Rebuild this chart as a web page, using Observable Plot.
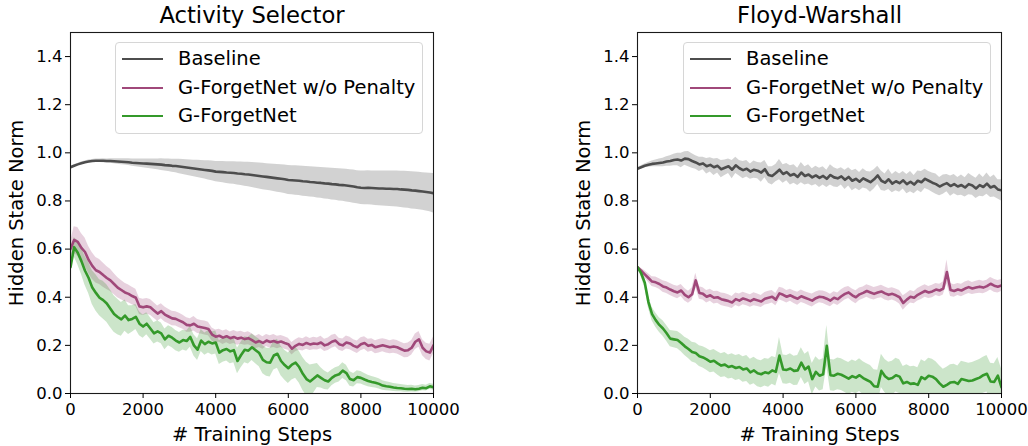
<!DOCTYPE html>
<html>
<head>
<meta charset="utf-8">
<script src="https://cdn.jsdelivr.net/npm/d3@7"></script>
<script src="https://cdn.jsdelivr.net/npm/@observablehq/plot@0.6"></script>
<style>
  html, body { margin: 0; padding: 0; background: #fff; }
  #wrap { position: relative; width: 1028px; height: 446px; font-family: "DejaVu Sans", sans-serif; overflow: hidden; }
  .panel { position: absolute; top: 0; }
  .legend { position: absolute; top: 42px; width: 306px; height: 90px; border: 1px solid #d6d6d6; border-radius: 4px; background: rgba(255,255,255,0.8); }
  .legend .swatch { position: absolute; left: 6px; width: 41px; height: 2.6px; }
  .legend .lab { position: absolute; left: 62px; font-size: 19.5px; line-height: 20px; color: #000; white-space: nowrap; }
</style>
</head>
<body>
<div id="wrap"></div>
<script>
// ---------------- data ----------------
const steps = d3.range(0, 10001, 100);
const seriesNames = ["Baseline", "G-ForgetNet w/o Penalty", "G-ForgetNet"];
const seriesColors = ["#4d4d4d", "#a0487a", "#34992a"];
const panelTitles = ["Activity Selector", "Floyd-Warshall"];
const xTicks = [0, 2000, 4000, 6000, 8000, 10000];
const yTicks = [0, 0.2, 0.4, 0.6, 0.8, 1.0, 1.2, 1.4];

// Activity Selector
const actBaselineMean = [
0.940,0.946,0.952,0.957,0.961,0.964,0.966,0.967,0.967,0.967,0.966,
0.966,0.965,0.964,0.963,0.962,0.961,0.959,0.958,0.957,0.956,
0.955,0.954,0.953,0.952,0.951,0.949,0.948,0.946,0.945,0.943,
0.941,0.939,0.937,0.935,0.933,0.931,0.929,0.927,0.925,0.922,
0.921,0.920,0.918,0.917,0.916,0.914,0.913,0.911,0.910,0.908,
0.906,0.904,0.902,0.900,0.898,0.896,0.894,0.892,0.890,0.887,
0.886,0.885,0.884,0.882,0.881,0.879,0.878,0.876,0.875,0.873,
0.872,0.870,0.869,0.867,0.866,0.864,0.862,0.860,0.857,0.855,
0.854,0.855,0.854,0.853,0.852,0.852,0.851,0.851,0.850,0.850,
0.848,0.847,0.846,0.844,0.843,0.841,0.839,0.837,0.835,0.832];
const actBaselineSpread = [
0.003,0.004,0.004,0.005,0.005,0.006,0.006,0.007,0.007,0.008,0.008,
0.009,0.010,0.011,0.012,0.013,0.014,0.015,0.016,0.017,0.018,
0.019,0.020,0.021,0.022,0.024,0.025,0.026,0.027,0.028,0.030,
0.031,0.032,0.033,0.034,0.036,0.037,0.038,0.040,0.041,0.042,
0.043,0.044,0.045,0.046,0.047,0.048,0.049,0.050,0.051,0.052,
0.053,0.054,0.055,0.055,0.056,0.057,0.058,0.058,0.059,0.060,
0.060,0.061,0.061,0.062,0.062,0.063,0.063,0.064,0.064,0.065,
0.065,0.066,0.066,0.067,0.067,0.068,0.068,0.069,0.069,0.070,
0.070,0.071,0.071,0.072,0.072,0.073,0.073,0.074,0.074,0.075,
0.075,0.076,0.076,0.077,0.077,0.078,0.078,0.079,0.080,0.082];
const actNoPenaltyMean = [
0.600,0.638,0.630,0.605,0.588,0.555,0.530,0.512,0.505,0.492,0.480,
0.470,0.455,0.440,0.430,0.420,0.414,0.405,0.398,0.362,0.358,
0.362,0.358,0.345,0.332,0.342,0.328,0.320,0.312,0.310,0.303,
0.296,0.285,0.283,0.290,0.278,0.275,0.272,0.268,0.245,0.236,
0.240,0.232,0.238,0.230,0.235,0.228,0.232,0.226,0.230,0.222,
0.212,0.218,0.210,0.220,0.214,0.218,0.212,0.216,0.210,0.205,
0.186,0.198,0.206,0.202,0.210,0.204,0.208,0.206,0.212,0.200,
0.205,0.215,0.220,0.205,0.200,0.212,0.208,0.198,0.192,0.205,
0.210,0.198,0.202,0.192,0.196,0.200,0.196,0.192,0.195,0.192,
0.185,0.178,0.180,0.190,0.215,0.225,0.190,0.175,0.170,0.200];
const actNoPenaltySpread = [
0.030,0.055,0.060,0.060,0.058,0.056,0.055,0.053,0.052,0.050,0.048,
0.046,0.044,0.042,0.040,0.038,0.037,0.036,0.035,0.034,0.034,
0.033,0.033,0.032,0.032,0.031,0.031,0.030,0.030,0.030,0.030,
0.029,0.030,0.028,0.030,0.029,0.028,0.029,0.028,0.027,0.028,
0.027,0.028,0.027,0.026,0.027,0.028,0.027,0.026,0.027,0.026,
0.026,0.027,0.026,0.025,0.026,0.027,0.026,0.025,0.026,0.025,
0.026,0.025,0.026,0.025,0.026,0.025,0.026,0.025,0.026,0.025,
0.026,0.027,0.026,0.025,0.026,0.027,0.026,0.025,0.026,0.027,
0.026,0.027,0.026,0.027,0.028,0.027,0.028,0.027,0.028,0.028,
0.028,0.029,0.030,0.030,0.032,0.033,0.033,0.034,0.035,0.035];
const actForgetMean = [
0.525,0.608,0.585,0.550,0.510,0.480,0.440,0.418,0.398,0.388,0.374,
0.352,0.330,0.318,0.308,0.324,0.305,0.310,0.318,0.290,0.278,
0.290,0.270,0.250,0.258,0.250,0.225,0.240,0.232,0.220,0.212,
0.222,0.218,0.235,0.200,0.182,0.220,0.205,0.215,0.208,0.212,
0.170,0.180,0.185,0.175,0.180,0.135,0.160,0.182,0.178,0.192,
0.180,0.168,0.140,0.130,0.128,0.158,0.165,0.135,0.118,0.105,
0.120,0.128,0.110,0.082,0.060,0.050,0.062,0.075,0.065,0.055,
0.050,0.065,0.075,0.080,0.095,0.085,0.060,0.055,0.068,0.065,
0.058,0.052,0.048,0.045,0.040,0.033,0.030,0.028,0.025,0.023,
0.022,0.020,0.019,0.020,0.018,0.020,0.024,0.022,0.030,0.026];
const actForgetSpread = [
0.020,0.040,0.050,0.055,0.060,0.065,0.070,0.075,0.075,0.078,0.078,
0.078,0.076,0.074,0.070,0.065,0.060,0.055,0.052,0.050,0.048,
0.046,0.045,0.044,0.044,0.043,0.043,0.042,0.042,0.042,0.041,
0.041,0.042,0.043,0.044,0.045,0.046,0.046,0.047,0.048,0.048,
0.049,0.050,0.050,0.051,0.052,0.053,0.053,0.054,0.055,0.055,
0.056,0.057,0.058,0.058,0.059,0.060,0.060,0.061,0.062,0.063,
0.064,0.065,0.066,0.068,0.070,0.068,0.060,0.050,0.042,0.038,
0.035,0.033,0.032,0.032,0.033,0.032,0.030,0.028,0.027,0.026,
0.025,0.024,0.023,0.022,0.021,0.020,0.019,0.018,0.017,0.016,
0.015,0.015,0.014,0.014,0.013,0.013,0.013,0.012,0.012,0.012];

// Floyd-Warshall
const fwBaselineMean = [
0.934,0.940,0.946,0.950,0.954,0.956,0.958,0.960,0.964,0.966,0.970,
0.972,0.968,0.976,0.974,0.966,0.960,0.952,0.956,0.944,0.950,
0.940,0.946,0.932,0.938,0.944,0.930,0.948,0.936,0.928,0.934,
0.922,0.930,0.926,0.918,0.932,0.908,0.904,0.916,0.930,0.912,
0.920,0.906,0.912,0.900,0.918,0.904,0.910,0.898,0.906,0.896,
0.904,0.892,0.908,0.898,0.894,0.902,0.888,0.900,0.884,0.892,
0.880,0.894,0.886,0.878,0.890,0.906,0.884,0.876,0.890,0.872,
0.882,0.874,0.886,0.870,0.880,0.868,0.884,0.878,0.892,0.884,
0.876,0.870,0.860,0.868,0.874,0.862,0.870,0.860,0.866,0.856,
0.870,0.864,0.852,0.866,0.858,0.872,0.856,0.862,0.848,0.844];
const fwBaselineSpread = [
0.004,0.006,0.008,0.010,0.012,0.014,0.016,0.018,0.020,0.022,0.024,
0.026,0.030,0.028,0.032,0.030,0.028,0.030,0.026,0.032,0.030,
0.034,0.030,0.036,0.032,0.030,0.038,0.034,0.032,0.036,0.034,
0.032,0.036,0.034,0.040,0.036,0.034,0.038,0.036,0.042,0.038,
0.036,0.040,0.038,0.036,0.042,0.038,0.040,0.036,0.038,0.040,
0.038,0.036,0.042,0.040,0.038,0.036,0.040,0.038,0.042,0.040,
0.038,0.040,0.036,0.042,0.040,0.038,0.040,0.036,0.042,0.038,
0.040,0.038,0.036,0.040,0.042,0.038,0.040,0.044,0.040,0.038,
0.040,0.042,0.038,0.040,0.036,0.042,0.040,0.038,0.042,0.040,
0.044,0.040,0.042,0.046,0.040,0.044,0.042,0.046,0.040,0.044];
const fwNoPenaltyMean = [
0.525,0.510,0.495,0.480,0.465,0.462,0.455,0.445,0.440,0.432,0.425,
0.420,0.428,0.410,0.400,0.412,0.470,0.418,0.414,0.402,0.408,
0.398,0.400,0.392,0.388,0.384,0.378,0.392,0.386,0.395,0.390,
0.384,0.392,0.387,0.382,0.394,0.398,0.402,0.390,0.416,0.410,
0.402,0.408,0.400,0.394,0.404,0.398,0.392,0.386,0.396,0.402,
0.400,0.394,0.386,0.398,0.392,0.404,0.414,0.420,0.408,0.400,
0.412,0.418,0.426,0.420,0.414,0.420,0.424,0.416,0.410,0.414,
0.408,0.400,0.376,0.390,0.402,0.398,0.410,0.418,0.426,0.420,
0.424,0.432,0.428,0.436,0.505,0.430,0.426,0.432,0.428,0.436,
0.442,0.436,0.440,0.444,0.440,0.446,0.456,0.448,0.444,0.449];
const fwNoPenaltySpread = [
0.005,0.010,0.015,0.018,0.020,0.022,0.022,0.024,0.024,0.025,0.025,
0.026,0.025,0.026,0.025,0.026,0.030,0.026,0.025,0.026,0.025,
0.026,0.025,0.026,0.027,0.026,0.025,0.026,0.027,0.026,0.025,
0.026,0.027,0.026,0.025,0.026,0.027,0.026,0.025,0.026,0.027,
0.026,0.025,0.026,0.027,0.026,0.025,0.026,0.027,0.026,0.025,
0.026,0.027,0.026,0.025,0.026,0.027,0.026,0.025,0.026,0.027,
0.026,0.025,0.026,0.027,0.026,0.025,0.026,0.027,0.026,0.025,
0.026,0.028,0.030,0.027,0.026,0.025,0.026,0.027,0.026,0.025,
0.026,0.025,0.026,0.027,0.050,0.027,0.026,0.025,0.026,0.027,
0.026,0.025,0.026,0.027,0.026,0.025,0.026,0.027,0.026,0.025];
const fwForgetMean = [
0.525,0.500,0.460,0.380,0.330,0.305,0.285,0.270,0.250,0.228,0.225,
0.222,0.210,0.196,0.185,0.172,0.168,0.155,0.150,0.142,0.132,
0.136,0.125,0.116,0.120,0.110,0.114,0.106,0.110,0.100,0.104,
0.088,0.096,0.084,0.080,0.088,0.084,0.096,0.090,0.158,0.100,
0.098,0.104,0.094,0.096,0.128,0.100,0.112,0.060,0.090,0.074,
0.080,0.198,0.076,0.074,0.082,0.078,0.070,0.062,0.072,0.066,
0.076,0.064,0.056,0.048,0.030,0.028,0.094,0.072,0.060,0.064,
0.076,0.070,0.042,0.048,0.040,0.042,0.036,0.068,0.060,0.074,
0.070,0.060,0.042,0.028,0.036,0.046,0.048,0.040,0.060,0.056,
0.052,0.054,0.060,0.066,0.076,0.082,0.050,0.048,0.074,0.026];
const fwForgetSpread = [
0.005,0.015,0.020,0.025,0.028,0.030,0.030,0.032,0.033,0.034,0.035,
0.036,0.037,0.038,0.040,0.041,0.042,0.043,0.044,0.045,0.046,
0.047,0.048,0.049,0.050,0.050,0.051,0.052,0.052,0.053,0.054,
0.054,0.055,0.056,0.056,0.057,0.058,0.058,0.059,0.075,0.060,
0.060,0.061,0.061,0.062,0.062,0.063,0.063,0.065,0.063,0.064,
0.064,0.085,0.065,0.065,0.066,0.066,0.066,0.067,0.067,0.067,
0.068,0.068,0.068,0.068,0.069,0.069,0.069,0.069,0.070,0.070,
0.070,0.070,0.070,0.071,0.071,0.071,0.071,0.072,0.072,0.072,
0.072,0.072,0.073,0.073,0.073,0.073,0.074,0.074,0.074,0.074,
0.074,0.075,0.075,0.075,0.075,0.076,0.076,0.076,0.076,0.076];

// ---------------- drawing ----------------
function rowsFor(mean, spread) {
  return steps.map((s, i) => ({step: s, mean: mean[i], lo: mean[i] - spread[i], hi: mean[i] + spread[i]}));
}

function panel(title, seriesData, marginLeft, marginRight) {
  const marks = [];
  seriesData.forEach((rows, k) => {
    marks.push(Plot.areaY(rows, {x: "step", y1: "lo", y2: "hi", fill: seriesColors[k], fillOpacity: 0.25, clip: true}));
  });
  seriesData.forEach((rows, k) => {
    marks.push(Plot.lineY(rows, {x: "step", y: "mean", stroke: seriesColors[k], strokeWidth: 2.6, clip: true}));
  });
  marks.push(Plot.frame({stroke: "#1a1a1a", strokeWidth: 1.1}));
  marks.push(Plot.axisX({ticks: xTicks, tickFormat: d => String(d), tickSize: 5, tickPadding: 5, label: null, fontSize: 16.5}));
  marks.push(Plot.axisY({ticks: yTicks, tickFormat: d3.format(".1f"), tickSize: 5, tickPadding: 3, label: null, fontSize: 16.5}));
  marks.push(Plot.text([title], {text: d => d, frameAnchor: "top", lineAnchor: "middle", dy: -17, fontSize: 22.7, fill: "black"}));
  marks.push(Plot.text(["# Training Steps"], {text: d => d, frameAnchor: "bottom", lineAnchor: "middle", dy: 41, fontSize: 19.5, fill: "black"}));
  marks.push(Plot.text(["Hidden State Norm"], {text: d => d, frameAnchor: "left", textAnchor: "middle", lineAnchor: "middle", rotate: -90, dx: -54, fontSize: 19.5, fill: "black"}));
  return Plot.plot({
    width: 514, height: 446,
    marginTop: 32, marginBottom: 53, marginLeft, marginRight,
    style: {fontFamily: "DejaVu Sans", fontSize: "16.5px", color: "black", background: "transparent", overflow: "visible"},
    x: {domain: [0, 10000], label: null},
    y: {domain: [0, 1.5], label: null},
    marks
  });
}

function legend(left) {
  const box = document.createElement("div");
  box.className = "legend";
  box.style.left = left + "px";
  const rowsY = [16, 45, 73];
  seriesNames.forEach((name, k) => {
    const sw = document.createElement("div");
    sw.className = "swatch";
    sw.style.top = (rowsY[k] - 1.3) + "px";
    sw.style.background = seriesColors[k];
    box.appendChild(sw);
    const lab = document.createElement("div");
    lab.className = "lab";
    lab.style.top = (rowsY[k] - 10) + "px";
    lab.textContent = name;
    box.appendChild(lab);
  });
  return box;
}

const wrap = document.getElementById("wrap");
const left = panel(panelTitles[0], [
  rowsFor(actBaselineMean, actBaselineSpread),
  rowsFor(actNoPenaltyMean, actNoPenaltySpread),
  rowsFor(actForgetMean, actForgetSpread)
], 70, 81);
const right = panel(panelTitles[1], [
  rowsFor(fwBaselineMean, fwBaselineSpread),
  rowsFor(fwNoPenaltyMean, fwNoPenaltySpread),
  rowsFor(fwForgetMean, fwForgetSpread)
], 123, 27);
const d1 = document.createElement("div"); d1.className = "panel"; d1.style.left = "0px"; d1.appendChild(left);
const d2 = document.createElement("div"); d2.className = "panel"; d2.style.left = "514px"; d2.appendChild(right);
wrap.appendChild(d1);
wrap.appendChild(d2);
wrap.appendChild(legend(115));
wrap.appendChild(legend(683));
</script>
</body>
</html>
